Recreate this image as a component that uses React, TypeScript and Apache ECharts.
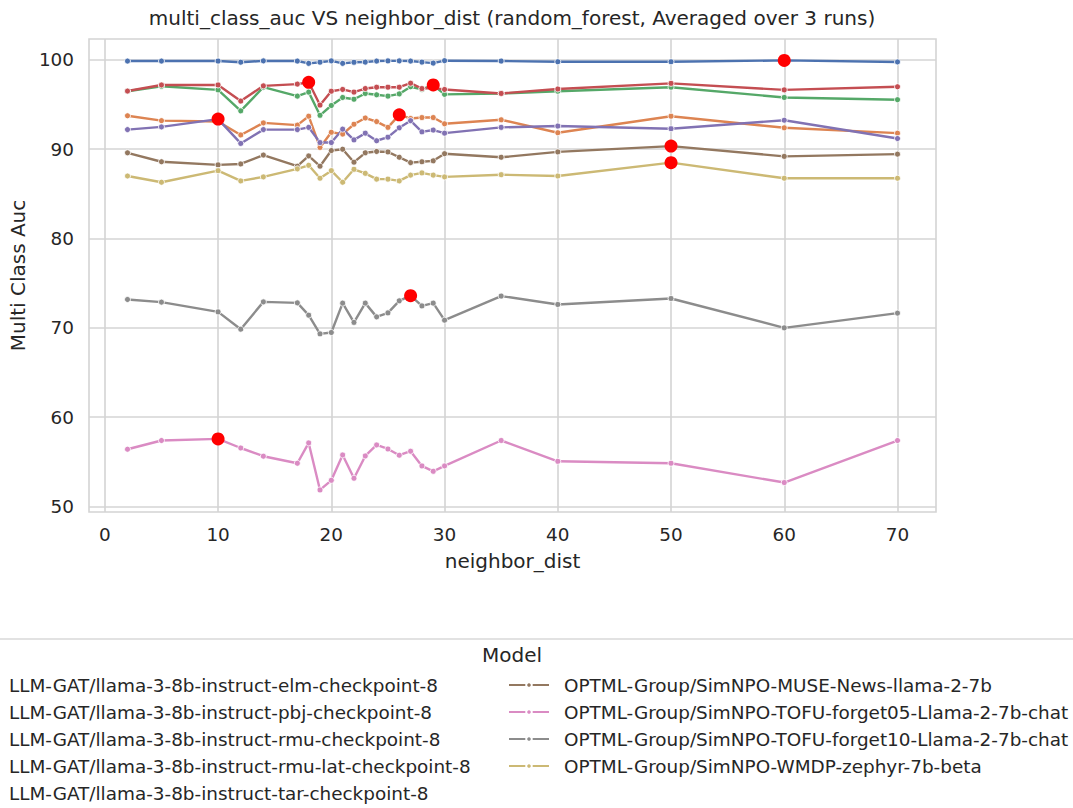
import React, { useEffect, useRef } from "react";
import * as echarts from "echarts";

const xValues = [2, 5, 10, 12, 14, 17, 18, 19, 20, 21, 22, 23, 24, 25, 26, 27, 28, 29, 30, 35, 40, 50, 60, 70];

const modelNames = [
  "LLM-GAT/llama-3-8b-instruct-elm-checkpoint-8",
  "LLM-GAT/llama-3-8b-instruct-pbj-checkpoint-8",
  "LLM-GAT/llama-3-8b-instruct-rmu-checkpoint-8",
  "LLM-GAT/llama-3-8b-instruct-rmu-lat-checkpoint-8",
  "LLM-GAT/llama-3-8b-instruct-tar-checkpoint-8",
  "OPTML-Group/SimNPO-MUSE-News-llama-2-7b",
  "OPTML-Group/SimNPO-TOFU-forget05-Llama-2-7b-chat",
  "OPTML-Group/SimNPO-TOFU-forget10-Llama-2-7b-chat",
  "OPTML-Group/SimNPO-WMDP-zephyr-7b-beta",
];

const colors = ["#4c72b0", "#dd8452", "#55a868", "#c44e52", "#8172b3", "#937860", "#da8bc3", "#8c8c8c", "#ccb974"];

const elmValues = [99.88, 99.88, 99.88, 99.75, 99.9, 99.88, 99.62, 99.75, 99.9, 99.62, 99.74, 99.76, 99.88, 99.9, 99.9, 99.88, 99.76, 99.65, 99.92, 99.88, 99.8, 99.8, 99.95, 99.78];
const pbjValues = [93.75, 93.2, 93.1, 91.6, 92.95, 92.7, 93.7, 90.2, 91.9, 91.7, 92.8, 93.5, 93.1, 92.45, 93.85, 93.45, 93.55, 93.55, 92.85, 93.3, 91.85, 93.7, 92.4, 91.8];
const rmuValues = [96.5, 97.05, 96.65, 94.3, 96.95, 95.95, 96.4, 93.8, 94.9, 95.8, 95.6, 96.25, 96.1, 95.95, 96.2, 97.0, 96.7, 97.2, 96.15, 96.25, 96.5, 96.95, 95.8, 95.55];
const rmuLatValues = [96.52, 97.2, 97.2, 95.4, 97.1, 97.3, 97.5, 94.95, 96.5, 96.7, 96.4, 96.8, 96.95, 96.95, 96.95, 97.4, 96.8, 96.85, 96.7, 96.25, 96.75, 97.38, 96.65, 97.0];
const tarValues = [92.2, 92.5, 93.38, 90.65, 92.2, 92.2, 92.45, 90.75, 90.75, 92.25, 91.05, 91.8, 90.95, 91.35, 92.4, 93.2, 91.95, 92.15, 91.8, 92.45, 92.6, 92.3, 93.25, 91.2];
const museValues = [89.6, 88.6, 88.25, 88.35, 89.35, 88.1, 89.25, 88.1, 89.85, 90.0, 88.55, 89.6, 89.75, 89.7, 89.1, 88.5, 88.6, 88.7, 89.5, 89.1, 89.7, 90.35, 89.2, 89.45];
const forget05Values = [56.39, 57.37, 57.55, 56.53, 55.61, 54.82, 57.1, 51.83, 52.91, 55.75, 53.14, 55.64, 56.87, 56.42, 55.72, 56.17, 54.52, 53.92, 54.52, 57.37, 55.04, 54.82, 52.66, 57.37];
const forget10Values = [73.17, 72.87, 71.78, 69.84, 72.9, 72.79, 71.41, 69.32, 69.47, 72.76, 70.6, 72.76, 71.22, 71.67, 73.02, 73.6, 72.45, 72.76, 70.85, 73.55, 72.61, 73.28, 69.99, 71.64];
const wmdpValues = [87.0, 86.3, 87.6, 86.45, 86.9, 87.8, 88.2, 86.75, 87.6, 86.3, 87.75, 87.3, 86.65, 86.65, 86.45, 87.1, 87.35, 87.1, 86.9, 87.15, 87.0, 88.5, 86.75, 86.75];

const seriesValues = [elmValues, pbjValues, rmuValues, rmuLatValues, tarValues, museValues, forget05Values, forget10Values, wmdpValues];

const xTicks = [0, 10, 20, 30, 40, 50, 60, 70];
const yTicks = [50, 60, 70, 80, 90, 100];

const FONT = "DejaVu Sans";
const TEXT = "#262626";
const GRID = "#d4d4d4";

export default function App() {
  const ref = useRef<HTMLDivElement>(null);
  useEffect(() => {
    if (!ref.current) return;
    const chart = echarts.init(ref.current, undefined, { renderer: "svg" });

    const lineSeries = modelNames.map((name, i) => ({
      name,
      type: "line",
      data: xValues.map((x, j) => [x, seriesValues[i][j]]),
      color: colors[i],
      lineStyle: { width: 2.4, color: colors[i] },
      symbol: "circle",
      symbolSize: 6,
      itemStyle: { color: colors[i], borderColor: "#ffffff", borderWidth: 0.8 },
      emphasis: { disabled: true },
    }));

    const best = seriesValues.map((vals) => {
      let k = 0;
      vals.forEach((v, j) => { if (v > vals[k]) k = j; });
      return [xValues[k], vals[k]];
    });

    const legendText = {
      fontFamily: FONT,
      fontSize: 18.4,
      color: TEXT,
      lineHeight: 18,
      padding: [0, 0, 0, 10],
    };

    chart.setOption({
      animation: false,
      backgroundColor: "#ffffff",
      title: {
        text: "multi_class_auc VS neighbor_dist (random_forest, Averaged over 3 runs)",
        left: 512,
        textAlign: "center",
        top: 8,
        padding: 0,
        textStyle: { fontFamily: FONT, fontSize: 20, fontWeight: "normal", color: TEXT },
      },
      grid: {
        left: 89, top: 39, width: 847, height: 473,
        show: true, borderColor: GRID, borderWidth: 1.6, backgroundColor: "#ffffff",
      },
      xAxis: {
        type: "value",
        min: -1.4,
        max: 73.4,
        name: "neighbor_dist",
        nameLocation: "middle",
        nameGap: 39,
        nameTextStyle: { fontFamily: FONT, fontSize: 20, color: TEXT },
        axisLine: { show: false },
        axisTick: { show: false, customValues: xTicks },
        axisLabel: { customValues: xTicks, fontFamily: FONT, fontSize: 18.4, color: TEXT, margin: 13 },
        splitLine: { show: true, lineStyle: { color: GRID, width: 1.6 } },
      },
      yAxis: {
        type: "value",
        min: 49.36,
        max: 102.35,
        name: "Multi Class Auc",
        nameLocation: "middle",
        nameGap: 60,
        nameTextStyle: { fontFamily: FONT, fontSize: 20, color: TEXT },
        axisLine: { show: false },
        axisTick: { show: false, customValues: yTicks },
        axisLabel: { customValues: yTicks, fontFamily: FONT, fontSize: 18.4, color: TEXT, margin: 15 },
        splitLine: { show: true, lineStyle: { color: GRID, width: 1.6 } },
      },
      legend: [
        {
          data: modelNames.slice(0, 5),
          orient: "vertical",
          left: -47,
          top: 676,
          padding: 0,
          itemWidth: 40,
          itemHeight: 7,
          itemGap: 9,
          textStyle: legendText,
          selectedMode: false,
        },
        {
          data: modelNames.slice(5),
          orient: "vertical",
          left: 508,
          top: 676,
          padding: 0,
          itemWidth: 40,
          itemHeight: 7,
          itemGap: 9,
          textStyle: legendText,
          selectedMode: false,
        },
      ],
      graphic: [
        {
          type: "rect",
          shape: { x: -20, y: 639, width: 1120, height: 200, r: 4 },
          style: { fill: "#ffffff", stroke: "#d9d9d9", lineWidth: 1.6 },
          z: -10,
        },
        {
          type: "text",
          x: 512,
          y: 655,
          style: { text: "Model", fontFamily: FONT, fontSize: 20, fill: TEXT, textAlign: "center", textVerticalAlign: "middle" },
        },
      ],
      series: [
        ...lineSeries,
        {
          name: "best",
          type: "scatter",
          data: best,
          symbol: "circle",
          symbolSize: 13,
          itemStyle: { color: "#ff0000", opacity: 1 },
          z: 10,
          emphasis: { disabled: true },
        },
      ],
    });
    return () => chart.dispose();
  }, []);
  return <div ref={ref} style={{ position: "fixed", left: 0, top: 0, width: 1073, height: 808 }} />;
}
